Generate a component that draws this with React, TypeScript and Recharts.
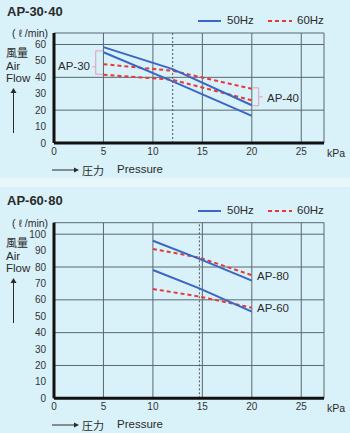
import { LineChart, Line, XAxis, YAxis, CartesianGrid, ReferenceLine } from 'recharts';

const pressureTicks = [0, 5, 10, 15, 20, 25];
const flowTicksTop = [0, 10, 20, 30, 40, 50, 60];
const flowTicksBottom = [0, 10, 20, 30, 40, 50, 60, 70, 80, 90, 100];

// AP-30·40 (kPa -> l/min)
const pressTop = [5, 12, 20];
const ap40Hz50 = [58.4, 45, 23];
const ap30Hz50 = [55.3, 37.5, 16.5];
const ap40Hz60 = [48, 44, 33];
const ap30Hz60 = [41.6, 38.5, 26];
const ratedTop = 12;

// AP-60·80
const pressBottom = [10, 14.7, 20];
const ap80Hz50 = [96, 85, 71.7];
const ap80Hz60 = [91, 85.7, 75];
const ap60Hz50 = [78.2, 67, 52.8];
const ap60Hz60 = [66.6, 62, 55.2];
const ratedBottom = 14.7;

const BLUE = '#3a67c6';
const RED = '#e83838';
const PINK = '#e79ab8';
const GRID = '#5b6870';
const TEXT = '#2a2a2a';
const FONT = '"Liberation Sans", Arial, sans-serif';
const CJK = '"Noto Sans CJK JP", sans-serif';

const toPoints = (p: number[], q: number[]) => p.map((x, i) => ({ p: x, q: q[i] }));

type Series = { data: { p: number; q: number }[]; hz: 50 | 60 };

function T({ x, y, size = 11.5, bold = false, family = FONT, children }: any) {
  return (
    <div
      style={{
        position: 'absolute',
        left: x,
        top: y,
        transform: 'translateY(-50%)',
        fontSize: size,
        fontWeight: bold ? 700 : 400,
        fontFamily: family,
        color: TEXT,
        whiteSpace: 'nowrap',
        lineHeight: 1,
      }}
    >
      {children}
    </div>
  );
}

function Legend({ y }: { y: number }) {
  return (
    <>
      <svg style={{ position: 'absolute', left: 196, top: y - 3 }} width={100} height={6}>
        <line x1={2} y1={3} x2={25} y2={3} stroke={BLUE} strokeWidth={2} />
        <line x1={72} y1={3} x2={96} y2={3} stroke={RED} strokeWidth={2} strokeDasharray="4 3" />
      </svg>
      <T x={227} y={y}>50Hz</T>
      <T x={297} y={y}>60Hz</T>
    </>
  );
}

function AxisText({ top, pressureY }: { top: number; pressureY: number }) {
  return (
    <>
      <T x={12} y={top} size={10.5}>( ℓ /min)</T>
      <T x={6} y={top + 19} size={11} family={CJK}>風量</T>
      <T x={6} y={top + 33.5} size={11.5}>Air</T>
      <T x={6} y={top + 45.5} size={11.5}>Flow</T>
      <svg style={{ position: 'absolute', left: 9, top: top + 55 }} width={10} height={46}>
        <line x1={4.5} y1={3} x2={4.5} y2={45} stroke={TEXT} strokeWidth={1} />
        <path d="M1.5,5 L4.5,0 L7.5,5 Z" fill={TEXT} />
      </svg>
      <svg style={{ position: 'absolute', left: 52, top: pressureY - 3 }} width={30} height={6}>
        <line x1={0} y1={3} x2={23} y2={3} stroke={TEXT} strokeWidth={1} />
        <path d="M22,0.5 L27,3 L22,5.5 Z" fill={TEXT} />
      </svg>
      <T x={82} y={pressureY} size={11} family={CJK}>圧力</T>
      <T x={117} y={pressureY}>Pressure</T>
    </>
  );
}

function Chart({
  height,
  marginTop,
  marginBottom,
  yMax,
  yTicks,
  rated,
  series,
  children,
}: {
  height: number;
  marginTop: number;
  marginBottom: number;
  yMax: number;
  yTicks: number[];
  rated: number;
  series: Series[];
  children?: any;
}) {
  return (
    <LineChart
      width={350}
      height={height}
      margin={{ top: marginTop, right: 26, bottom: marginBottom, left: 0 }}
    >
      <CartesianGrid stroke={GRID} strokeWidth={1} />
      <XAxis
        type="number"
        dataKey="p"
        domain={[0, 27.3]}
        ticks={pressureTicks}
        allowDataOverflow
        height={30}
        tickLine={false}
        tickSize={3}
        axisLine={{ stroke: '#111', strokeWidth: 3 }}
        tick={{ fill: '#333', fontSize: 10, fontFamily: FONT }}
      />
      <YAxis
        type="number"
        dataKey="q"
        domain={[0, yMax]}
        ticks={yTicks}
        allowDataOverflow
        width={54}
        tickLine={false}
        axisLine={{ stroke: '#111', strokeWidth: 3 }}
        tick={{ fill: '#333', fontSize: 10, fontFamily: FONT }}
      />
      <ReferenceLine x={rated} stroke="#555" strokeDasharray="2 2" strokeWidth={1} />
      {children}
      {series.map((s, i) => (
        <Line
          key={i}
          data={s.data}
          dataKey="q"
          type="linear"
          stroke={s.hz === 50 ? BLUE : RED}
          strokeWidth={2}
          strokeDasharray={s.hz === 60 ? '4 3' : undefined}
          dot={false}
          activeDot={false}
          isAnimationActive={false}
        />
      ))}
    </LineChart>
  );
}

const topSeries: Series[] = [
  { data: toPoints(pressTop, ap40Hz60), hz: 60 },
  { data: toPoints(pressTop, ap30Hz60), hz: 60 },
  { data: toPoints(pressTop, ap40Hz50), hz: 50 },
  { data: toPoints(pressTop, ap30Hz50), hz: 50 },
];

const bottomSeries: Series[] = [
  { data: toPoints(pressBottom, ap80Hz60), hz: 60 },
  { data: toPoints(pressBottom, ap60Hz60), hz: 60 },
  { data: toPoints(pressBottom, ap80Hz50), hz: 50 },
  { data: toPoints(pressBottom, ap60Hz50), hz: 50 },
];

const seg = (x1: number, y1: number, x2: number, y2: number) =>
  [{ x: x1, y: y1 }, { x: x2, y: y2 }] as any;

export default function App() {
  return (
    <div
      style={{
        position: 'absolute',
        left: 0,
        top: 0,
        width: 350,
        height: 433,
        background: '#e9f6fb',
        overflow: 'hidden',
      }}
    >
      <div style={{ position: 'absolute', left: 0, top: 0, width: 350, height: 178, background: '#d9f1f9' }}>
        <T x={7} y={11} size={13} bold>AP-30·40</T>
        <Legend y={21} />
        <AxisText top={33} pressureY={170} />
        <div style={{ position: 'absolute', left: 0, top: 0 }}>
          <Chart height={180} marginTop={33} marginBottom={7} yMax={67} yTicks={flowTicksTop} rated={ratedTop} series={topSeries}>
            <ReferenceLine segment={seg(4.22, 56.1, 4.22, 41.9)} stroke={PINK} strokeWidth={1} />
            <ReferenceLine segment={seg(4.22, 56.1, 4.95, 56.1)} stroke={PINK} strokeWidth={1} />
            <ReferenceLine segment={seg(4.22, 41.9, 4.95, 41.9)} stroke={PINK} strokeWidth={1} />
            <ReferenceLine segment={seg(3.88, 46.4, 4.22, 46.4)} stroke={PINK} strokeWidth={1} />
            <ReferenceLine segment={seg(20.7, 33.6, 20.7, 22.7)} stroke={PINK} strokeWidth={1} />
            <ReferenceLine segment={seg(20.05, 33.6, 20.7, 33.6)} stroke={PINK} strokeWidth={1} />
            <ReferenceLine segment={seg(20.05, 22.7, 20.7, 22.7)} stroke={PINK} strokeWidth={1} />
            <ReferenceLine segment={seg(20.7, 28.1, 21.1, 28.1)} stroke={PINK} strokeWidth={1} />
          </Chart>
        </div>
        <T x={58} y={67}>AP-30</T>
        <T x={267} y={99}>AP-40</T>
        <T x={327} y={153} size={10.5}>kPa</T>
      </div>
      <div style={{ position: 'absolute', left: 0, top: 187, width: 350, height: 246, background: '#d9f1f9' }} />
      <div style={{ position: 'absolute', left: 0, top: 0 }}>
        <T x={7} y={200} size={13} bold>AP-60·80</T>
        <Legend y={211} />
        <AxisText top={223} pressureY={425} />
        <div style={{ position: 'absolute', left: 0, top: 180 }}>
          <Chart height={253} marginTop={42.7} marginBottom={4.7} yMax={107} yTicks={flowTicksBottom} rated={ratedBottom} series={bottomSeries} />
        </div>
        <T x={257} y={277}>AP-80</T>
        <T x={257} y={309}>AP-60</T>
        <T x={327} y={408} size={10.5}>kPa</T>
      </div>
    </div>
  );
}
